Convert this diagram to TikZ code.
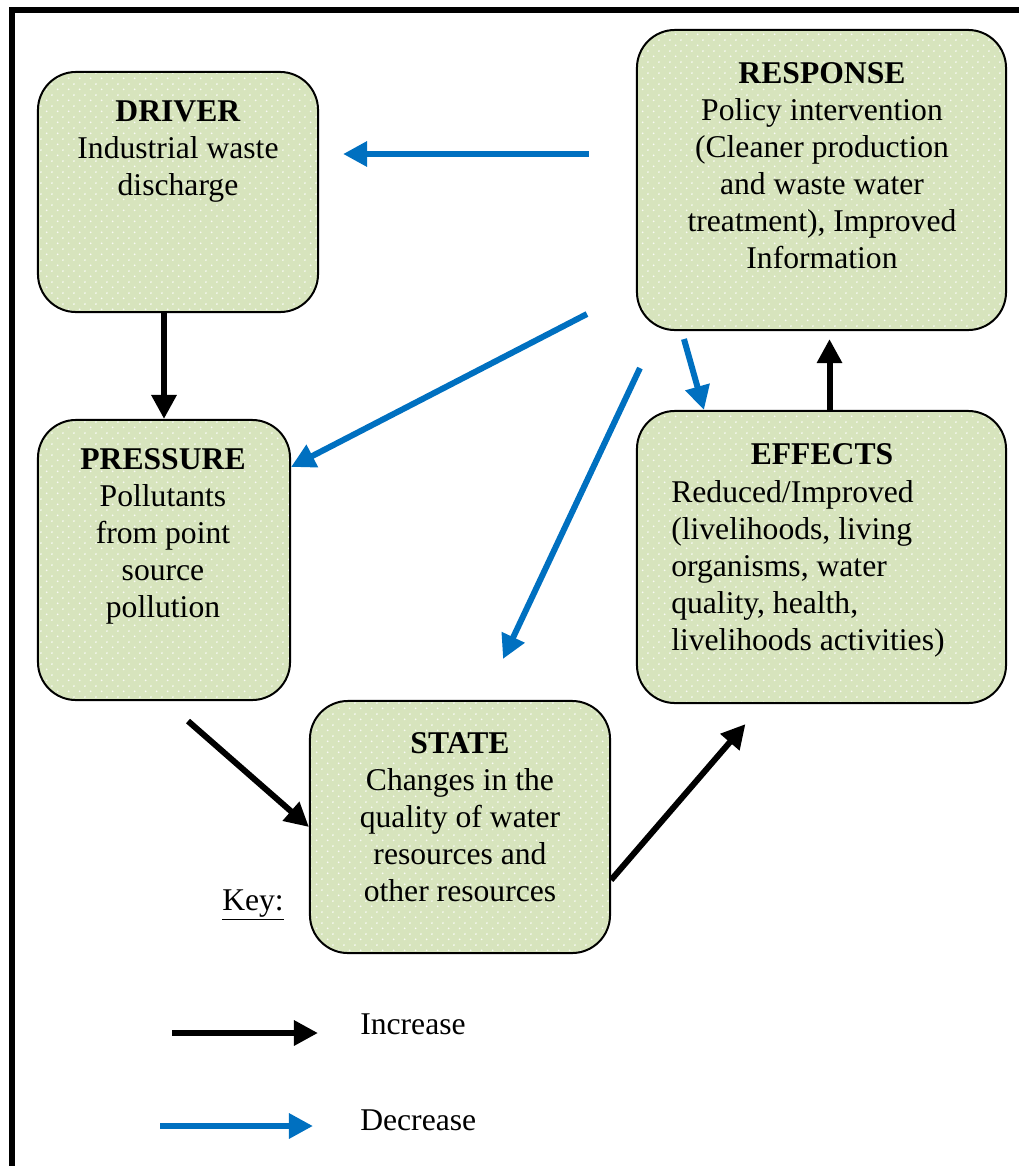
\documentclass[tikz,border=0pt]{standalone}
\usepackage{fontspec}
\setmainfont{Liberation Serif}
\usepackage{tikz}
\usetikzlibrary{
    arrows.meta,
    patterns.meta,
    calc
}
\usepackage{xcolor}
\definecolor{boxgreen}{RGB}{215,228,189}
\definecolor{decblue}{RGB}{0,112,192}
\tikzdeclarepattern{
    name=dotgrid,
    type=uncolored,
    bottom left={(0pt,0pt)},
    top right={(8pt,8pt)},
    tile size={(8pt,8pt)},
    code={
        \fill (2pt,2pt) circle (0.75pt);
        \fill (6pt,6pt) circle (0.75pt);
    }
}
\tikzstyle{stage} = [
    rectangle,
    rounded corners=0.95cm,
    draw=black,
    line width=0.05cm,
    preaction={fill=boxgreen},
    pattern=dotgrid,
    pattern color=white!85!boxgreen
]
\tikzstyle{stagetext} = [
    inner sep=0pt,
    align=center,
    font=\fontsize{22.5}{26.4}\selectfont
]
\tikzstyle{incarrow} = [
    -{Triangle[length=0.6cm,width=0.6cm]},
    line width=0.15cm,
    draw=black
]
\tikzstyle{decarrow} = [
    -{Triangle[length=0.6cm,width=0.6cm]},
    line width=0.15cm,
    draw=decblue
]

\begin{document}
\begin{tikzpicture}[x=0.025cm, y=-0.025cm]
        \useasboundingbox (0,0) rectangle (1019,1166);

        % frame (top and left)
        \draw[line width=0.17cm] (12,1166) -- (12,10) -- (1019,10);

        % DRIVER (top left)
        \node[stage, minimum width=7cm, minimum height=6cm] (driver) at (178,192) {};
        \node[stagetext, anchor=north] (drivertext) at (178,100) {
            \textbf{DRIVER}\\
            Industrial waste\\
            discharge
        };

        % RESPONSE (top right)
        \node[stage, minimum width=9.225cm, minimum height=7.5cm] (response) at (821.5,180) {};
        \node[stagetext, anchor=north] (responsetext) at (822,62) {
            \textbf{RESPONSE}\\
            Policy intervention\\
            (Cleaner production\\
            and waste water\\
            treatment), Improved\\
            Information
        };

        % PRESSURE (middle left)
        \node[stage, minimum width=6.3cm, minimum height=7cm] (pressure) at (164,560) {};
        \node[stagetext, anchor=north] (pressuretext) at (163,448) {
            \textbf{PRESSURE}\\
            Pollutants\\
            from point\\
            source\\
            pollution
        };

        % EFFECTS (middle right)
        \node[stage, minimum width=9.225cm, minimum height=7.3cm] (effects) at (821.5,557) {};
        \node[stagetext, anchor=north] (effectstitle) at (822,443) {\textbf{EFFECTS}};
        \node[stagetext, align=left, anchor=north west] (effectstext) at (671,480) {
            Reduced/Improved\\
            (livelihoods, living\\
            organisms, water\\
            quality, health,\\
            livelihoods activities)
        };

        % STATE (bottom middle)
        \node[stage, minimum width=7.5cm, minimum height=6.3cm] (state) at (460,827) {};
        \node[stagetext, anchor=north] (statetext) at (460,732) {
            \textbf{STATE}\\
            Changes in the\\
            quality of water\\
            resources and\\
            other resources
        };

        % Increase arrows
        \draw[incarrow] (pressure.north |- driver.south) -- (pressure.north);
        \draw[incarrow] ([xshift=0.6cm,yshift=-0.5cm]pressure.south) -- (state.west);
        \draw[incarrow] ([yshift=-1.325cm]state.east) -- ([xshift=-1.9cm,yshift=-0.5cm]effects.south);
        \draw[incarrow, shorten >=0.2cm] ([xshift=0.2cm]effects.north) -- ([xshift=0.2cm]response.south);

        % Decrease arrows
        \draw[decarrow, shorten <=1.175cm, shorten >=0.6cm]
            ([yshift=0.65cm]response.west) -- ([yshift=0.65cm]response.west -| driver.east);
        \draw[decarrow] ([xshift=-1.225cm,yshift=0.425cm]response.south west) -- ([yshift=2.325cm]pressure.east);
        \draw[decarrow] ([xshift=0.1cm,yshift=-0.925cm]response.south west) -- ([xshift=1.075cm,yshift=1.025cm]state.north);
        \draw[decarrow] ([xshift=1.2cm,yshift=-0.2cm]response.south west) -- ([xshift=1.7cm]effects.north west);

        % Key
        \node[stagetext, anchor=west] (key) at (222,905) {\underline{Key:}};
        \node[stagetext, anchor=west] (inclabel) at (360,1024) {Increase};
        \node[stagetext, anchor=west] (declabel) at (360,1120) {Decrease};
        \coordinate (incstart) at (172,1033);
        \coordinate (decstart) at (160,1126);
        \draw[incarrow, shorten >=1.05cm] (incstart) -- (incstart -| inclabel.west);
        \draw[decarrow, shorten >=1.175cm] (decstart) -- (decstart -| declabel.west);
    \end{tikzpicture}
\end{document}
